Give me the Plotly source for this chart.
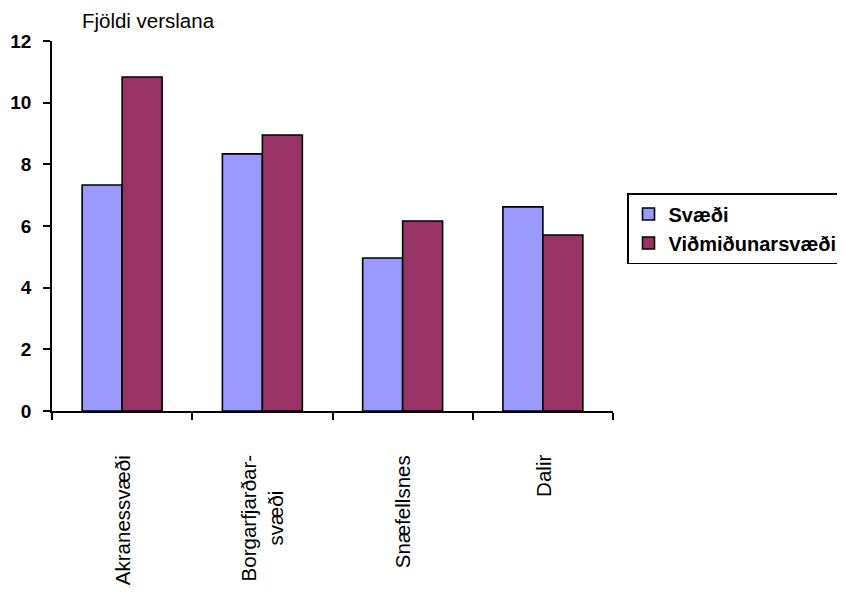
import plotly.graph_objects as go

categories = ["Akranessvæði", "Borgarfjarðar-<br>svæði", "Snæfellsnes", "Dalir"]
svaedi = [7.33, 8.34, 4.96, 6.62]
vidmid = [10.83, 8.95, 6.16, 5.71]
series_names = ["Svæði", "Viðmiðunarsvæði"]
y_ticks = [0, 2, 4, 6, 8, 10, 12]

FONT = "Liberation Sans, Arial, sans-serif"

# page body has an 8px default margin; compensate
OFF = 8
PL, PT, PW, PH = 52 - OFF, 41 - OFF, 561, 370

fig = go.Figure()
fig.add_trace(go.Bar(x=categories, y=svaedi, name=series_names[0],
                     marker=dict(color="#9999FF", line=dict(color="black", width=1.6))))
fig.add_trace(go.Bar(x=categories, y=vidmid, name=series_names[1],
                     marker=dict(color="#993366", line=dict(color="black", width=1.6))))

for c in categories:
    fig.add_annotation(x=c, y=0, xref="x", yref="paper", text=c, showarrow=False,
                       textangle=-90, xanchor="center", yanchor="top", yshift=-42,
                       align="center", font=dict(size=20.5, family=FONT, color="black"))

fig.update_layout(
    width=845, height=592,
    margin=dict(l=PL, r=845 - PL - PW, t=PT, b=592 - PT - PH, pad=0, autoexpand=False),
    paper_bgcolor="white", plot_bgcolor="white",
    barmode="group", bargap=0.43, bargroupgap=0,
    font=dict(family=FONT, size=19, color="black"),
    title=dict(text="Fjöldi verslana", x=(148 - OFF) / 845, xanchor="center",
               y=1 - 6 / 592, yanchor="top", font=dict(size=20.5)),
    showlegend=True,
    legend=dict(x=(627 - 52) / PW, y=(411 - 193) / PH, xanchor="left", yanchor="top",
                bordercolor="black", borderwidth=1.5, bgcolor="white",
                font=dict(size=20, family=FONT, weight="bold"),
                itemwidth=30, tracegroupgap=4),
)
fig.update_xaxes(showline=True, linecolor="black", linewidth=1.5,
                 ticks="outside", tickson="boundaries", ticklen=7, tickwidth=1.5,
                 tickcolor="black", showticklabels=False,
                 showgrid=False, zeroline=False)
fig.update_yaxes(range=[0, 12], tickvals=y_ticks, showline=True, linecolor="black",
                 linewidth=1.5, ticks="outside", ticklen=7, tickwidth=1.5,
                 tickcolor="black", showgrid=False, zeroline=False,
                 tickfont=dict(size=19, weight="bold"), ticklabelstandoff=8)

fig.write_html("out.html")
